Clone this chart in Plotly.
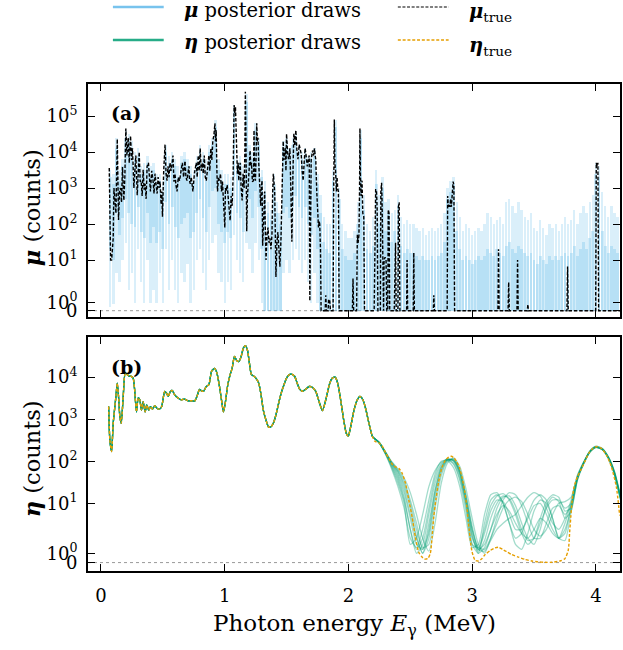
import numpy as np
import plotly.graph_objects as go

# ---------------- panel (a): expected counts mu ----------------
# true expected counts (energy in MeV, counts)
mu_true_E = [
    0.067, 0.072, 0.078, 0.086, 0.092, 0.099, 0.105, 0.113, 0.121, 0.132, 0.142, 0.150, 0.158, 0.166,
    0.174, 0.185, 0.193, 0.201, 0.210, 0.220, 0.229, 0.239, 0.248, 0.255, 0.266, 0.274, 0.282, 0.293,
    0.301, 0.309, 0.317, 0.325, 0.333, 0.341, 0.349, 0.357, 0.365, 0.373, 0.384, 0.392, 0.400, 0.410,
    0.421, 0.429, 0.437, 0.446, 0.454, 0.462, 0.470, 0.478, 0.486, 0.492, 0.497, 0.507, 0.518, 0.526,
    0.534, 0.542, 0.550, 0.558, 0.566, 0.574, 0.582, 0.590, 0.598, 0.606, 0.615, 0.625, 0.636, 0.647,
    0.658, 0.668, 0.679, 0.687, 0.695, 0.703, 0.711, 0.717, 0.722, 0.730, 0.743, 0.755, 0.770, 0.778,
    0.786, 0.794, 0.802, 0.810, 0.819, 0.827, 0.835, 0.843, 0.851, 0.860, 0.872, 0.880, 0.888, 0.896,
    0.904, 0.913, 0.921, 0.926, 0.931, 0.937, 0.942, 0.950, 0.958, 0.966, 0.974, 0.982, 0.990, 1.001,
    1.006, 1.012, 1.020, 1.028, 1.036, 1.044, 1.052, 1.060, 1.068, 1.076, 1.082, 1.087, 1.095, 1.103,
    1.109, 1.114, 1.120, 1.125, 1.133, 1.141, 1.149, 1.157, 1.163, 1.167, 1.172, 1.178, 1.184, 1.189,
    1.197, 1.205, 1.211, 1.216, 1.224, 1.232, 1.237, 1.242, 1.248, 1.254, 1.259, 1.264, 1.269, 1.275,
    1.280, 1.286, 1.291, 1.296, 1.302, 1.307, 1.315, 1.323, 1.328, 1.334, 1.342, 1.350, 1.358, 1.366,
    1.374, 1.382, 1.388, 1.393, 1.398, 1.404, 1.409, 1.414, 1.422, 1.430, 1.438, 1.446, 1.455, 1.463,
    1.468, 1.473, 1.479, 1.490, 1.495, 1.500, 1.508, 1.516, 1.522, 1.527, 1.535, 1.543, 1.551, 1.559,
    1.567, 1.575, 1.583, 1.592, 1.597, 1.602, 1.610, 1.618, 1.626, 1.634, 1.642, 1.650, 1.658, 1.667,
    1.675, 1.683, 1.688, 1.693, 1.699, 1.704, 1.710, 1.718, 1.726, 1.731, 1.736, 1.744, 1.750, 1.758,
    1.764, 1.768, 1.774, 1.779, 1.812, 1.817, 1.822, 1.836, 1.840, 1.849, 1.855, 1.876, 1.881, 1.886,
    1.890, 1.896, 1.903, 1.908, 1.913, 1.919, 1.925, 2.032, 2.037, 2.042, 2.066, 2.072, 2.078, 2.085,
    2.090, 2.093, 2.097, 2.103, 2.110, 2.116, 2.124, 2.130, 2.208, 2.214, 2.220, 2.226, 2.232, 2.238,
    2.258, 2.262, 2.268, 2.272, 2.278, 2.284, 2.288, 2.296, 2.304, 2.310, 2.318, 2.322, 2.328, 2.334,
    2.370, 2.375, 2.381, 2.386, 2.400, 2.404, 2.410, 2.416, 2.470, 2.474, 2.479, 2.524, 2.528, 2.533,
    2.686, 2.690, 2.695, 2.798, 2.802, 2.808, 2.814, 2.820, 2.826, 2.832, 2.840, 2.846, 2.852, 2.858,
    3.208, 3.213, 3.218, 3.290, 3.295, 3.300, 3.362, 3.367, 3.372, 3.446, 3.450, 3.455, 3.766, 3.771,
    3.776, 3.998, 4.003, 4.010, 4.016, 4.022, 4.195,
]
mu_true_counts = [
    3600, 16, 10, 10, 25, 40, 1000, 300, 200, 23000, 130, 800, 1000, 400,
    3800, 450, 2000, 45000, 8000, 25000, 5000, 28000, 6000, 12600, 1000, 3000, 8000, 630,
    2000, 10000, 1500, 1600, 600, 3200, 900, 1300, 500, 4000, 5000, 1200, 800, 3000,
    1600, 700, 2500, 1200, 700, 2000, 1000, 1500, 350, 800, 160, 3000, 16000, 2500,
    1600, 4000, 2000, 5000, 3000, 4500, 8000, 1500, 2500, 1200, 800, 2000, 1600, 3000,
    5000, 2000, 5600, 2000, 1600, 2500, 4000, 1500, 1300, 2000, 800, 2500, 5000, 2000,
    8000, 3000, 12600, 3000, 5000, 2500, 8000, 2000, 1600, 3000, 8000, 3000, 12600, 6000,
    20000, 30000, 63000, 20000, 40000, 3000, 800, 2000, 1600, 2500, 800, 1500, 560, 80,
    1000, 800, 1200, 560, 400, 125, 600, 320, 2000, 200000, 120000, 180000, 20000, 2500,
    5000, 1600, 3000, 5000, 1000, 450, 2500, 1000, 10000, 470000, 20000, 63, 600, 1600,
    3000, 11000, 4000, 5000, 1500, 1600, 40000, 2000, 1600, 8000, 63000, 20000, 25000, 5000,
    2500, 800, 320, 1000, 1600, 25, 300, 800, 80, 10, 50, 80, 30, 40,
    20, 50, 800, 2500, 1500, 800, 60, 4, 30, 60, 20, 7, 40, 1600,
    8000, 20000, 6000, 12600, 3000, 32000, 10000, 6300, 8000, 12600, 800, 32, 2000, 32000,
    15000, 40000, 12000, 6300, 10000, 16000, 12000, 9000, 3000, 1600, 5000, 12600, 8000, 4000,
    6000, 8000, 1.1, 2000, 6000, 8000, 11000, 8000, 12600, 8000, 6300, 800, 160, 80,
    120, 100, 20, 0, 0, 1.5, 0, 0, 1.2, 1.1, 0, 0, 1000, 80000,
    5000, 3000, 800, 2000, 1000, 800, 0, 0, 3.7, 0, 0, 50, 30, 50,
    1000, 45000, 2000, 600, 1600, 200, 160, 0, 0, 600, 900, 900, 300, 0,
    0, 800, 1400, 400, 0, 0, 10, 12, 10, 0, 0, 250, 200, 0,
    0, 30, 30, 0, 0, 300, 400, 0, 0, 10, 0, 0, 16, 0,
    0, 1.5, 0, 0, 600, 300, 350, 300, 500, 300, 800, 1500, 1200, 0,
    0, 20, 0, 0, 3, 0, 0, 10, 0, 0, 0.8, 0, 0, 7,
    0, 0, 5000, 4000, 5000, 0, 0,
]

# posterior draws of mu, summarised per 0.025 MeV bin
mu_bin_E = np.round(0.075 + 0.025 * np.arange(165), 4)
# log10 of the highest draw in each bin
mu_draw_hi_log = [
    3.5, 3.4, 4.4, 3.5, 3.8, 4.6, 4.5, 4.3, 4.0, 4.1,
    3.6, 3.7, 3.9, 3.6, 3.7, 3.4, 3.4, 3.2, 4.2, 3.9,
    4.0, 3.8, 3.6, 3.9, 4.0, 3.8, 3.6, 3.5, 3.9, 4.2,
    4.0, 3.8, 4.2, 4.4, 4.9, 3.8, 3.5, 3.4, 3.4, 3.3,
    5.3, 3.8, 3.9, 3.6, 5.6, 4.2, 4.0, 4.8, 4.4, 3.5,
    3.2, 2.6, 2.4, 3.4, 2.6, 2.3, 4.3, 4.4, 4.1, 4.4,
    4.5, 4.2, 4.0, 4.1, 3.9, 4.0, 4.1, 3.4, 2.8, 2.2,
    2.0, 2.0, 3.5, 4.9, 3.0, 2.0, 1.8, 1.6, 1.6, 1.8,
    2.6, 4.6, 2.8, 2.0, 1.8, 2.2, 3.5, 2.8, 3.3, 2.6,
    2.7, 2.3, 2.4, 2.8, 2.2, 2.0, 2.1, 2.0, 2.0, 1.9,
    1.8, 1.9, 1.7, 1.8, 1.9, 1.8, 1.9, 2.0, 2.3, 3.0,
    3.2, 3.3, 2.6, 2.2, 1.8, 2.0, 1.9, 1.7, 1.8, 1.9,
    1.8, 2.0, 2.3, 2.2, 2.0, 2.1, 2.2, 2.0, 2.6, 2.7,
    2.5, 2.3, 2.6, 2.4, 2.2, 2.1, 2.3, 1.9, 1.8, 2.1,
    1.9, 1.7, 2.0, 1.9, 2.0, 1.8, 2.0, 2.2, 2.0, 2.1,
    2.4, 2.0, 2.3, 2.5, 2.3, 2.6, 2.8, 3.7, 3.6, 2.9,
    2.5, 2.2, 2.5, 2.3, 2.2,
]
# lowest draw in each bin (counts)
mu_draw_lo = [
    0.5, 0.8, 5, 3, 10, 30, 2, 5, 1, 20,
    3, 1, 10, 1, 2, 1, 5, 1, 20, 2,
    10, 2, 1, 5, 3, 8, 1, 2, 10, 20,
    5, 2, 10, 30, 50, 5, 3, 1, 3, 2,
    50, 10, 5, 3, 30, 20, 5, 30, 10, 1,
    0, 0, 0, 0, 0, 0, 5, 10, 5, 10,
    20, 10, 5, 10, 3, 1, 5, 1, 0, 0,
] + [0] * 95
# log10 of the upper edge of the dense core of draws
mu_core_hi_log = [
    3.3, 3.1, 4.1, 3.2, 3.6, 4.4, 4.3, 4.1, 3.8, 3.9,
    3.4, 3.5, 3.7, 3.3, 3.5, 3.1, 3.2, 2.9, 4.0, 3.7,
    3.8, 3.6, 3.3, 3.7, 3.8, 3.6, 3.4, 3.2, 3.7, 4.0,
    3.8, 3.5, 4.0, 4.2, 4.7, 3.5, 3.2, 3.1, 3.1, 3.0,
    5.1, 3.6, 3.7, 3.3, 5.4, 4.0, 3.8, 4.6, 4.2, 3.3,
    2.9, 2.3, 2.1, 3.1, 2.3, 2.0, 4.1, 4.2, 3.9, 4.2,
    4.3, 4.0, 3.8, 3.9, 3.7, 3.8, 3.9, 3.1, 2.3, 1.5,
    1.3, 1.2, 3.2, 4.7, 2.7, 1.3, 1.1, 1.0, 1.0, 1.2,
    2.0, 4.4, 2.4, 1.3, 1.2, 1.4, 3.1, 2.0, 3.0, 1.8,
    2.3, 1.5, 1.8, 2.5, 1.4, 1.2, 1.3, 1.2, 1.2, 1.1,
    1.0, 1.1, 1.0, 1.0, 1.1, 1.0, 1.1, 1.2, 1.5, 2.7,
    2.9, 3.1, 1.8, 1.3, 1.0, 1.1, 1.0, 0.9, 1.0, 1.1,
    1.0, 1.1, 1.3, 1.2, 1.1, 1.3, 1.2, 1.1, 1.4, 1.5,
    1.3, 1.2, 1.4, 1.3, 1.2, 1.1, 1.2, 1.0, 0.9, 1.1,
    1.0, 0.9, 1.1, 1.0, 1.1, 1.0, 1.1, 1.2, 1.1, 1.2,
    1.4, 1.1, 1.3, 1.5, 1.3, 1.6, 1.8, 3.4, 3.3, 1.8,
    1.4, 1.2, 1.4, 1.3, 1.2,
]
# lower edge of the dense core (counts)
mu_core_lo = [
    20, 10, 200, 50, 150, 500, 200, 100, 80, 300,
    60, 40, 200, 30, 80, 30, 60, 20, 400, 100,
    300, 80, 40, 100, 150, 200, 40, 60, 200, 500,
    150, 60, 300, 800, 1000, 100, 60, 30, 60, 40,
    2000, 200, 150, 60, 1000, 500, 150, 800, 300, 20,
    0, 0, 0, 0, 0, 0,
    200, 300, 150, 300, 600, 300, 150, 300, 100, 50, 150, 20,
] + [0] * 97

# ---------------- panel (b): background eta ----------------
eta_true_E = [
    0.062, 0.072, 0.086, 0.099, 0.121, 0.132, 0.142, 0.153, 0.164, 0.180, 0.196, 0.212, 0.228, 0.244,
    0.260, 0.271, 0.287, 0.301, 0.314, 0.327, 0.341, 0.357, 0.370, 0.386, 0.400, 0.416, 0.435, 0.454,
    0.475, 0.491, 0.515, 0.529, 0.545, 0.561, 0.577, 0.596, 0.623, 0.649, 0.676, 0.703, 0.730, 0.757,
    0.776, 0.797, 0.813, 0.829, 0.851, 0.872, 0.894, 0.918, 0.937, 0.958, 0.974, 0.990, 1.006, 1.025,
    1.044, 1.060, 1.079, 1.097, 1.114, 1.133, 1.151, 1.167, 1.184, 1.200, 1.216, 1.237, 1.259, 1.275,
    1.294, 1.312, 1.334, 1.355, 1.374, 1.393, 1.414, 1.436, 1.457, 1.479, 1.500, 1.522, 1.543, 1.565,
    1.586, 1.607, 1.629, 1.656, 1.683, 1.710, 1.736, 1.763, 1.790, 1.817, 1.849, 1.870, 1.892, 1.913,
    1.937, 1.964, 1.983, 1.999, 2.018, 2.045, 2.072, 2.093, 2.117, 2.139, 2.166, 2.192, 2.214, 2.246,
    2.273, 2.300, 2.327, 2.359, 2.380, 2.407, 2.434, 2.461, 2.488, 2.515, 2.541, 2.568, 2.595, 2.616,
    2.643, 2.662, 2.676, 2.689, 2.708, 2.729, 2.756, 2.783, 2.810, 2.831, 2.853, 2.877, 2.896, 2.917,
    2.939, 2.957, 2.976, 2.998, 3.024, 3.051, 3.078, 3.105, 3.145, 3.185, 3.212, 3.244, 3.279, 3.320,
    3.373, 3.427, 3.481, 3.534, 3.588, 3.642, 3.709, 3.749, 3.776, 3.789, 3.797, 3.808, 3.824, 3.851,
    3.878, 3.910, 3.942, 3.977, 4.009, 4.044, 4.085, 4.125, 4.165, 4.192,
]
eta_true_counts = [
    2000, 320, 170, 800, 3500, 7200, 3500, 1150, 800, 3500, 12600, 11500, 10500, 10500,
    9500, 5500, 1500, 3200, 2900, 1650, 2600, 1500, 2200, 1650, 2000, 1750, 2100, 1800,
    1750, 2000, 4600, 4200, 3500, 4600, 4800, 3800, 3200, 2900, 3000, 2750, 2750, 2700,
    3500, 5100, 4700, 4600, 6000, 6600, 13800, 16200, 12600, 6000, 2900, 1500, 2600, 6600,
    11500, 16200, 31000, 25000, 23400, 31000, 49000, 56000, 43600, 21400, 11500, 10500, 8900, 7200,
    3800, 1650, 950, 650, 660, 800, 1260, 2400, 4200, 6600, 9500, 11500, 11700, 10500,
    7200, 5100, 4600, 5200, 6000, 5700, 4600, 2600, 1600, 2900, 7200, 9500, 10000, 7200,
    2900, 870, 460, 400, 660, 1650, 2900, 3500, 2900, 1800, 800, 400, 300, 275,
    230, 160, 117, 81, 74, 68, 52, 30, 12, 5.3, 2.1, 1.05, 0.59, 0.38,
    0.45, 1.0, 2.1, 5.3, 13, 33, 71, 105, 126, 132, 120, 95, 72, 43,
    20, 8.5, 2.9, 1.1, 0.24, 0.17, 0.41, 0.86, 1.13, 1.28, 1.32, 1.2, 1.08, 0.86,
    0.59, 0.34, 0.17, 0.07, 0.03, 0.03, 0.17, 0.41, 1.13, 2.9, 5.3, 11.7, 25, 43,
    62, 98, 155, 204, 224, 204, 141, 74, 25, 5.7,
]

# posterior draws of eta above 2.2 MeV (below that they follow eta_true)
eta_tail_E = np.round(2.2 + 0.05 * np.arange(41), 3)
eta_draw_1 = [370, 280, 165, 95, 62, 35, 12, 4, 1.3, 1.5, 8, 45, 100, 115, 60, 14, 3, 1.2, 1.5, 3, 6,
              9, 7, 4, 2.5, 2, 3, 5, 4, 2.5, 2, 3, 8, 38, 90, 170, 215, 190, 120, 50, 13]
eta_draw_2 = [370, 270, 150, 70, 30, 10, 1.5, 2, 6, 25, 60, 95, 110, 90, 40, 9, 1.5, 1, 4, 12, 16,
              10, 4, 1.5, 1.2, 2.5, 7, 12, 10, 5, 2, 2.5, 9, 40, 88, 165, 215, 195, 125, 55, 14]
eta_draw_3 = [370, 275, 158, 85, 45, 18, 5, 1.5, 1.2, 4, 20, 70, 112, 105, 55, 12, 2.5, 1, 1.3, 3, 8,
              14, 15, 9, 4, 2, 1.5, 3, 9, 14, 11, 5, 7, 36, 86, 168, 220, 190, 118, 48, 12]
eta_draw_4 = [370, 282, 168, 98, 66, 40, 18, 6, 2, 1.1, 4, 30, 90, 120, 75, 22, 5, 1.5, 1, 2, 5,
              12, 18, 16, 9, 4, 2, 2, 4, 8, 9, 6, 9, 42, 92, 172, 225, 200, 122, 52, 13]
eta_draw_5 = [370, 268, 145, 65, 25, 8, 2, 1.3, 3, 12, 50, 100, 105, 70, 25, 5, 1.3, 1.5, 6, 16, 18,
              10, 4, 2, 2.5, 6, 12, 16, 12, 5, 2, 1.8, 7, 35, 85, 160, 210, 200, 130, 58, 15]
eta_draw_6 = [370, 278, 160, 88, 50, 22, 6, 2, 1, 2, 12, 55, 105, 110, 62, 16, 3.5, 1.2, 1.1, 1.8, 3,
              4, 5, 6, 9, 14, 18, 15, 8, 4, 3, 5, 12, 45, 95, 175, 230, 205, 128, 54, 13]
eta_draw_7 = [370, 272, 155, 80, 40, 14, 3, 1, 1.5, 6, 30, 80, 115, 100, 48, 10, 2, 1.2, 2.5, 7, 12,
              11, 6, 3, 3, 5, 9, 10, 6, 3, 2, 4, 10, 40, 90, 170, 220, 195, 120, 50, 12]
eta_draw_8 = [370, 280, 163, 92, 58, 30, 10, 3, 1.2, 2.5, 16, 62, 108, 108, 58, 14, 3, 1.3, 1.2, 2, 4,
              8, 12, 14, 11, 6, 3, 2.2, 3, 6, 10, 11, 14, 46, 94, 172, 222, 198, 124, 52, 13]
eta_draw_9 = [370, 276, 160, 90, 55, 26, 8, 2.2, 1, 3, 20, 72, 112, 102, 50, 11, 2.2, 1.1, 1.8, 5, 10,
              15, 13, 7, 3, 1.8, 2, 4, 8, 12, 12, 8, 10, 40, 90, 168, 218, 192, 122, 50, 12]
eta_draw_10 = [370, 270, 150, 75, 35, 12, 3, 1.2, 2, 8, 40, 88, 112, 85, 35, 7, 1.5, 1.3, 3, 9, 15,
               17, 12, 6, 2.5, 1.5, 2, 5, 11, 16, 14, 7, 8, 38, 88, 166, 216, 194, 126, 56, 14]
eta_draws = [eta_draw_1, eta_draw_2, eta_draw_3, eta_draw_4, eta_draw_5,
             eta_draw_6, eta_draw_7, eta_draw_8, eta_draw_9, eta_draw_10]

y_tick_counts_a = [0, 1, 10, 100, 1000, 10000, 100000]
y_tick_counts_b = [0, 1, 10, 100, 1000, 10000]
x_ticks = [0, 1, 2, 3, 4]


# ---------------- symmetric-log style count axis ----------------
def sym(v):
    """Map counts onto the plotted vertical coordinate (decades, with a linear part near zero)."""
    v = np.asarray(v, dtype=float)
    lin = 0.222 * v
    mid = 0.222 + 1.186 * np.log10(np.clip(v, 1, None))
    high = np.log10(np.clip(v, 10, None)) + 0.408
    return np.where(v <= 1, lin, np.where(v < 10, mid, high))


def tick_text(c):
    if c == 0:
        return "0"
    return "10<sup>%d</sup>" % int(round(np.log10(c)))


SKY = "86,180,233"
GREEN = "0,158,115"
ORANGE = "#E69F00"
FONT = "DejaVu Serif"

fig = go.Figure()

# posterior spread of mu (outer envelope and dense core)
hi = sym(10 ** np.array(mu_draw_hi_log))
lo = sym(mu_draw_lo)
fig.add_trace(go.Bar(x=mu_bin_E, y=hi - lo, base=lo, width=0.019,
                     marker=dict(color=f"rgba({SKY},0.22)", line=dict(width=0)),
                     xaxis="x", yaxis="y", showlegend=False, hoverinfo="skip"))
chi = sym(10 ** np.array(mu_core_hi_log))
clo = sym(mu_core_lo)
fig.add_trace(go.Bar(x=mu_bin_E, y=chi - clo, base=clo, width=0.023,
                     marker=dict(color=f"rgba({SKY},0.26)", line=dict(width=0)),
                     xaxis="x", yaxis="y", showlegend=False, hoverinfo="skip"))

# true mu
fig.add_trace(go.Scatter(x=mu_true_E, y=sym(mu_true_counts), mode="lines",
                         line=dict(color="black", width=1.4, dash="3.5px,1.8px"),
                         xaxis="x", yaxis="y", showlegend=False, hoverinfo="skip"))

# posterior draws of eta
eta_true_E_arr = np.array(eta_true_E)
eta_true_arr = np.array(eta_true_counts, dtype=float)
low_part = eta_true_E_arr < 2.2
for draw in eta_draws:
    xs = np.concatenate([eta_true_E_arr[low_part], eta_tail_E])
    ys = np.concatenate([eta_true_arr[low_part], np.array(draw, dtype=float)])
    fig.add_trace(go.Scatter(x=xs, y=sym(ys), mode="lines",
                             line=dict(color=f"rgba({GREEN},0.36)", width=1.3, shape="spline", smoothing=0.6),
                             xaxis="x2", yaxis="y2", showlegend=False, hoverinfo="skip"))

# true eta
fig.add_trace(go.Scatter(x=eta_true_E, y=sym(eta_true_counts), mode="lines",
                         line=dict(color=ORANGE, width=1.4, dash="3px,1.8px", shape="spline", smoothing=0.6),
                         xaxis="x2", yaxis="y2", showlegend=False, hoverinfo="skip"))

# ---------------- axes ----------------
xrange_ = [-0.1047, 4.1947]
common_x = dict(range=xrange_, tickvals=x_ticks, ticks="inside", ticklen=7, tickwidth=1.4,
                showline=True, linecolor="black", linewidth=1.8, mirror="allticks",
                showgrid=False, zeroline=False, tickcolor="black",
                tickfont=dict(family=FONT, size=18, color="black"))
common_y = dict(ticks="inside", ticklen=7, tickwidth=1.4, showline=True, linecolor="black",
                linewidth=1.8, mirror="allticks", showgrid=False, zeroline=False, tickcolor="black",
                tickfont=dict(family=FONT, size=18, color="black"), ticklabelstandoff=5)

fig.update_layout(
    width=623, height=650,
    margin=dict(l=88, r=1, t=84, b=79),
    paper_bgcolor="white", plot_bgcolor="white",
    barmode="overlay", bargap=0,
    xaxis=dict(domain=[0, 1], anchor="y", showticklabels=False, **common_x),
    yaxis=dict(domain=[0.521, 1], anchor="x", range=[-0.183, 6.297],
               tickvals=list(sym(y_tick_counts_a)), ticktext=[tick_text(c) for c in y_tick_counts_a],
               **common_y),
    xaxis2=dict(domain=[0, 1], anchor="y2", showticklabels=True, ticklabelstandoff=7, **common_x),
    yaxis2=dict(domain=[0, 0.48], anchor="x2", range=[-0.2, 5.357],
                tickvals=list(sym(y_tick_counts_b)), ticktext=[tick_text(c) for c in y_tick_counts_b],
                **common_y),
    showlegend=False,
)

# zero reference lines
for yref, xref in (("y", "x domain"), ("y2", "x2 domain")):
    fig.add_shape(type="line", xref=xref, yref=yref, x0=0, x1=1, y0=0, y1=0,
                  line=dict(color="#9a9a9a", width=1, dash="dot"), layer="below")


def xp(px):
    return (px - 88) / 534.0


def yp(py):
    return (571 - py) / 487.0


# panel letters and axis titles
fig.add_annotation(text="<b>(a)</b>", x=xp(109), y=yp(113), xref="paper", yref="paper",
                   xanchor="left", yanchor="middle", showarrow=False,
                   font=dict(family=FONT, size=19, color="black"))
fig.add_annotation(text="<b>(b)</b>", x=xp(109), y=yp(367), xref="paper", yref="paper",
                   xanchor="left", yanchor="middle", showarrow=False,
                   font=dict(family=FONT, size=19, color="black"))
fig.add_annotation(text="<b><i>μ</i></b> (counts)", x=xp(32), y=yp(208), xref="paper", yref="paper",
                   textangle=-90, xanchor="center", yanchor="middle", showarrow=False,
                   font=dict(family=FONT, size=22.5, color="black"))
fig.add_annotation(text="<b><i>η</i></b> (counts)", x=xp(32), y=yp(459), xref="paper", yref="paper",
                   textangle=-90, xanchor="center", yanchor="middle", showarrow=False,
                   font=dict(family=FONT, size=22.5, color="black"))
fig.add_annotation(text="Photon energy <i>E</i><sub>γ</sub> (MeV)", x=xp(355), y=yp(625),
                   xref="paper", yref="paper", xanchor="center", yanchor="middle", showarrow=False,
                   font=dict(family=FONT, size=23, color="black"))

# legend drawn above the panels
legend_items = [
    (113, 7, f"rgba({SKY},0.8)", 2.6, "solid", "<b><i>μ</i></b> posterior draws", 10),
    (113, 40, f"rgba({GREEN},0.85)", 2.6, "solid", "<b><i>η</i></b> posterior draws", 43),
    (399, 7, "black", 1.2, "3px,1.6px", "<b><i>μ</i></b><sub>true</sub>", 12),
    (399, 40, ORANGE, 1.4, "3px,1.8px", "<b><i>η</i></b><sub>true</sub>", 46),
]
for x0, ly, col, w, dash, label, ty in legend_items:
    fig.add_shape(type="line", xref="paper", yref="paper", x0=xp(x0), x1=xp(x0 + 51),
                  y0=yp(ly), y1=yp(ly), line=dict(color=col, width=w, dash=dash))
    fig.add_annotation(text=label, x=xp(x0 + 69), y=yp(ty), xref="paper", yref="paper",
                       xanchor="left", yanchor="middle", showarrow=False,
                       font=dict(family=FONT, size=19.5, color="black"))

fig.write_html("out.html")
